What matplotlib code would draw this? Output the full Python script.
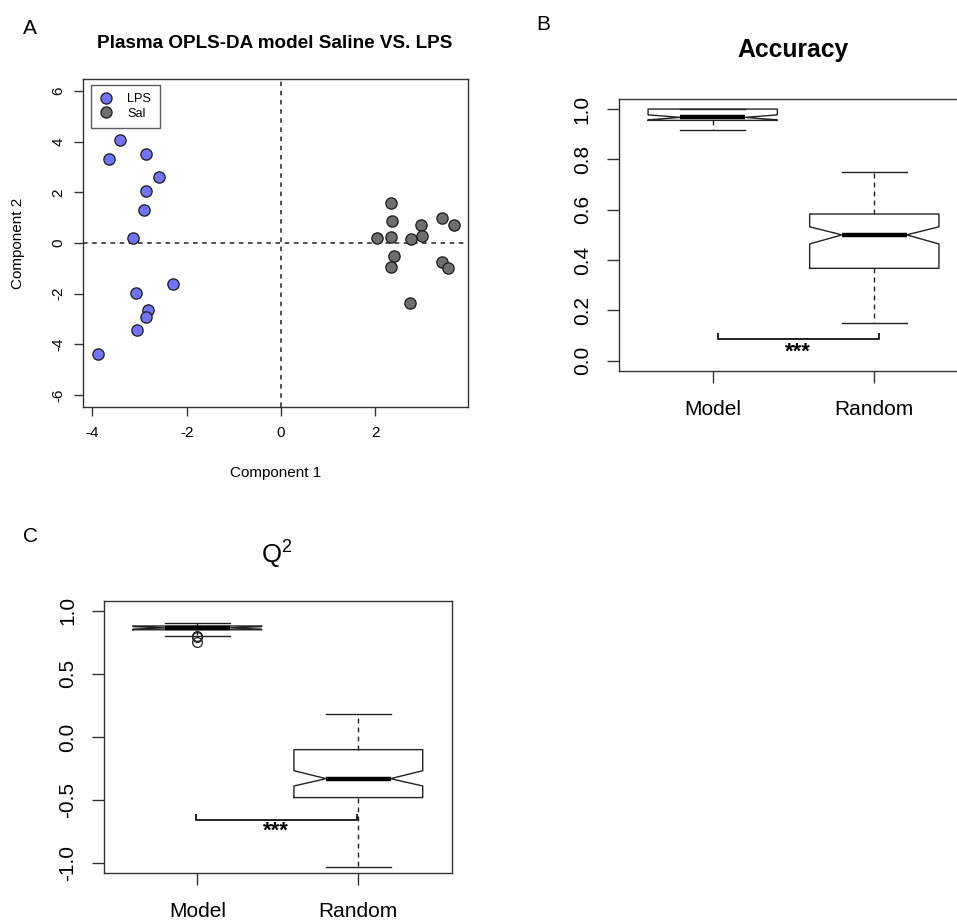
import matplotlib
matplotlib.use("Agg")
import matplotlib.pyplot as plt
from matplotlib.lines import Line2D

plt.rcParams["font.family"] = ["Liberation Sans", "DejaVu Sans"]
plt.rcParams["mathtext.fontset"] = "custom"
plt.rcParams["mathtext.rm"] = "Liberation Sans"

# Panel A: OPLS-DA scores
lps_x = [-3.41, -3.64, -2.87, -2.59, -2.86, -2.90, -3.13, -2.30, -3.08, -2.82, -2.86, -3.05, -3.89]
lps_y = [4.08, 3.30, 3.50, 2.62, 2.07, 1.32, 0.20, -1.62, -1.96, -2.66, -2.92, -3.42, -4.37]
sal_x = [2.33, 2.35, 2.98, 3.41, 3.67, 2.03, 2.33, 2.77, 3.00, 2.41, 2.33, 3.41, 3.55, 2.73]
sal_y = [1.58, 0.87, 0.71, 0.99, 0.71, 0.20, 0.24, 0.16, 0.29, -0.53, -0.93, -0.76, -0.99, -2.38]
groups = ["LPS", "Sal"]
group_colors = ["#7373f5", "#6e6e6e"]

# Panel B: accuracy (Model, Random)
box_labels = ["Model", "Random"]
acc_whislo = [0.917, 0.15]
acc_q1 = [0.955, 0.367]
acc_med = [0.967, 0.50]
acc_q3 = [1.0, 0.583]
acc_whishi = [1.0, 0.75]
acc_cilo = [0.957, 0.464]
acc_cihi = [0.977, 0.532]
acc_fliers = [[], []]
acc_sig_x = [1.03, 2.03]
acc_sig_y = 0.085

# Panel C: Q2 (Model, Random)
q2_whislo = [0.80, -1.03]
q2_q1 = [0.85, -0.48]
q2_med = [0.865, -0.33]
q2_q3 = [0.88, -0.10]
q2_whishi = [0.905, 0.18]
q2_cilo = [0.855, -0.388]
q2_cihi = [0.875, -0.267]
q2_fliers = [[0.80, 0.79, 0.75], []]
q2_sig_x = [0.99, 1.99]
q2_sig_y = -0.658

W, H = 957, 922
fig = plt.figure(figsize=(W / 100, H / 100), dpi=100)


def rect(left, top, right, bottom):
    return [left / W, 1 - bottom / H, (right - left) / W, (bottom - top) / H]


def style_axes(ax, tick_len):
    for sp in ax.spines.values():
        sp.set_color("#333333")
        sp.set_linewidth(1.0)
    ax.tick_params(direction="out", length=tick_len, width=1.0, color="#333333")


# ---- Panel A
ax = fig.add_axes(rect(83, 79, 468, 407))
style_axes(ax, 6.5)
ax.axvline(0, color="#222222", lw=1.1, ls=(0, (3, 3)), zorder=1)
ax.axhline(0, color="#222222", lw=1.1, ls=(0, (3, 3)), zorder=1)
ax.scatter(lps_x, lps_y, s=66, c=group_colors[0], edgecolors="#1a1a1a", linewidths=0.9, zorder=3)
ax.scatter(sal_x, sal_y, s=66, c=group_colors[1], edgecolors="#1a1a1a", linewidths=0.9, zorder=3)
ax.set_xlim(-4.2, 3.97)
ax.set_ylim(-6.48, 6.48)
ax.set_xticks([-4, -2, 0, 2])
ax.set_yticks([-6, -4, -2, 0, 2, 4, 6])
ax.set_xticklabels(["-4", "-2", "0", "2"], fontsize=11)
ax.set_yticklabels(["-6", "-4", "-2", "0", "2", "4", "6"], fontsize=11, rotation=90, va="center")
ax.tick_params(axis="x", pad=7)
ax.tick_params(axis="y", pad=6)
ax.set_xlabel("Component 1", fontsize=11)
ax.xaxis.set_label_coords(0.5, (407 - 473) / 328)
ax.xaxis.label.set_va("center")
ax.set_ylabel("Component 2", fontsize=11)
ax.yaxis.set_label_coords((18 - 83) / 385, 0.5)
ax.yaxis.label.set_va("center")
handles = [Line2D([], [], ls="", marker="o", ms=8.0, mfc=c, mec="#1a1a1a", mew=0.9) for c in group_colors]
leg = ax.legend(handles, groups, loc="upper left", bbox_to_anchor=((91 - 83) / 385, (407 - 85) / 328),
                borderaxespad=0, fontsize=9.2, frameon=True, fancybox=False, handlelength=1.1,
                handletextpad=1.1, borderpad=0.65, labelspacing=0.18)
leg.get_frame().set_edgecolor("#333333")
leg.get_frame().set_linewidth(1.0)
fig.text(275 / W, 1 - 43 / H, "Plasma OPLS-DA model Saline VS. LPS", fontsize=13.6,
         fontweight="bold", ha="center", va="center")
fig.text(30 / W, 1 - 28 / H, "A", fontsize=15, ha="center", va="center")


def stats_list(lo, q1, med, q3, hi, cilo, cihi, fliers):
    out = []
    for i in range(len(med)):
        out.append(dict(whislo=lo[i], q1=q1[i], med=med[i], q3=q3[i], whishi=hi[i],
                        cilo=cilo[i], cihi=cihi[i], fliers=fliers[i]))
    return out


def draw_box(ax, stats):
    ax.bxp(stats, positions=[1, 2], widths=0.8, shownotches=True, showfliers=True,
           boxprops=dict(color="#222222", lw=1.0),
           medianprops=dict(color="black", lw=3.2, solid_capstyle="butt"),
           whiskerprops=dict(color="#222222", lw=1.0, ls=(0, (3.5, 3))),
           capprops=dict(color="#222222", lw=1.0),
           flierprops=dict(marker="o", mfc="none", mec="#222222", ms=7, mew=0.9))


def sig_bracket(ax, xs, y, tick, text_y):
    ax.plot([xs[0], xs[0], xs[1], xs[1]], [y + tick, y, y, y + tick], color="#222222", lw=1.4)
    ax.text((xs[0] + xs[1]) / 2, text_y, "***", ha="center", va="center", fontsize=16,
            fontweight="bold")


# ---- Panel B
ax = fig.add_axes(rect(619, 99, 968, 371))
style_axes(ax, 8.6)
draw_box(ax, stats_list(acc_whislo, acc_q1, acc_med, acc_q3, acc_whishi, acc_cilo, acc_cihi, acc_fliers))
ax.set_xlim(0.42, 2.58)
ax.set_ylim(-0.041, 1.04)
ax.set_xticks([1, 2])
ax.set_xticklabels(box_labels, fontsize=15)
ax.set_yticks([0.0, 0.2, 0.4, 0.6, 0.8, 1.0])
ax.set_yticklabels(["0.0", "0.2", "0.4", "0.6", "0.8", "1.0"], fontsize=15, rotation=90, va="center")
ax.tick_params(axis="x", pad=12.5)
ax.tick_params(axis="y", pad=11)
sig_bracket(ax, acc_sig_x, acc_sig_y, 0.02, 0.032)
fig.text(793 / W, 1 - 50 / H, "Accuracy", fontsize=17.8, fontweight="bold", ha="center", va="center")
fig.text(543 / W, 1 - 25 / H, "B", fontsize=15, ha="center", va="center")

# ---- Panel C
ax = fig.add_axes(rect(104, 601, 451.7, 873.3))
style_axes(ax, 8.6)
draw_box(ax, stats_list(q2_whislo, q2_q1, q2_med, q2_q3, q2_whishi, q2_cilo, q2_cihi, q2_fliers))
ax.set_xlim(0.42, 2.58)
ax.set_ylim(-1.08, 1.078)
ax.set_xticks([1, 2])
ax.set_xticklabels(box_labels, fontsize=15)
ax.set_yticks([-1.0, -0.5, 0.0, 0.5, 1.0])
ax.set_yticklabels(["-1.0", "-0.5", "0.0", "0.5", "1.0"], fontsize=15, rotation=90, va="center")
ax.tick_params(axis="x", pad=12)
ax.tick_params(axis="y", pad=10.5)
sig_bracket(ax, q2_sig_x, q2_sig_y, 0.04, -0.745)
fig.text(277 / W, 1 - 554 / H, "Q$^2$", fontsize=18.5, ha="center", va="center")
fig.text(31 / W, 1 - 537 / H, "C", fontsize=15, ha="center", va="center")

fig.savefig("out.png", dpi=100)
